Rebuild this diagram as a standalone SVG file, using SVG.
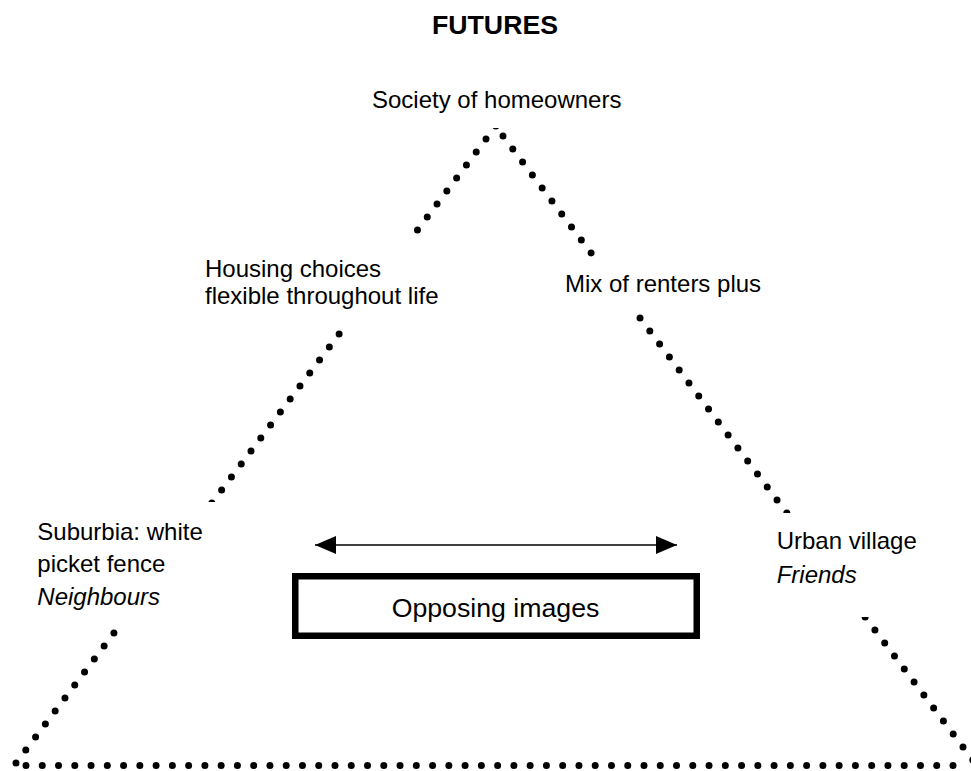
<svg xmlns="http://www.w3.org/2000/svg" width="971" height="771" viewBox="0 0 971 771">
<style>
  .t { font-family: "Liberation Sans", Arial, sans-serif; font-size: 24px; fill: #000; }
  .big { font-size: 26.7px; }
  .b { font-weight: bold; }
  .i { font-style: italic; }
  .dots { fill: none; stroke: #000; stroke-width: 7; stroke-linecap: round; }
  .mask { fill: #fff; stroke: none; }
</style>
<defs>
  <marker id="ah" viewBox="0 0 21 18" refX="21" refY="9" markerWidth="21" markerHeight="18" markerUnits="userSpaceOnUse" orient="auto-start-reverse">
    <path d="M0,0 L21,9 L0,18 z" fill="#000"/>
  </marker>
</defs>
<rect x="0" y="0" width="971" height="771" fill="#fff"/>

<g id="connectors">
  <path class="dots" d="M16,763 L495.8,126" stroke-dasharray="0 16.275"/>
  <path class="dots" d="M503,136 L972.8,760" stroke-dasharray="0 16.272"/>
  <path class="dots" d="M26,765.5 L953,765.5" stroke-dasharray="0 16.263"/>
  <line x1="315" y1="545" x2="677" y2="545" stroke="#000" stroke-width="1.5" marker-start="url(#ah)" marker-end="url(#ah)"/>
</g>

<g id="title">
  <text class="t big b" x="495" y="34.3" text-anchor="middle">FUTURES</text>
</g>

<g id="society">
  <rect class="mask" x="360" y="82" width="270" height="46"/>
  <text class="t" x="372" y="108.3">Society of homeowners</text>
</g>

<g id="housing">
  <rect class="mask" x="195" y="237" width="255" height="89"/>
  <text class="t" x="205" y="276.7">Housing choices</text>
  <text class="t" x="205" y="304.3">flexible throughout life</text>
</g>

<g id="mix">
  <rect class="mask" x="555" y="259" width="215" height="52"/>
  <text class="t" x="565" y="291.5">Mix of renters plus</text>
</g>

<g id="suburbia">
  <rect class="mask" x="25" y="502" width="235" height="124"/>
  <text class="t" x="37.3" y="539.5">Suburbia: white</text>
  <text class="t" x="37.3" y="571.5">picket fence</text>
  <text class="t i" x="37.3" y="605">Neighbours</text>
</g>

<g id="urban">
  <rect class="mask" x="765" y="513" width="195" height="104"/>
  <text class="t" x="776.7" y="548.5">Urban village</text>
  <text class="t i" x="776.7" y="582.5">Friends</text>
</g>

<g id="opposing">
  <rect x="295.25" y="576.25" width="401.5" height="59.5" fill="#fff" stroke="#000" stroke-width="6.5"/>
  <text class="t big" x="495.5" y="616.7" text-anchor="middle">Opposing images</text>
</g>
</svg>
